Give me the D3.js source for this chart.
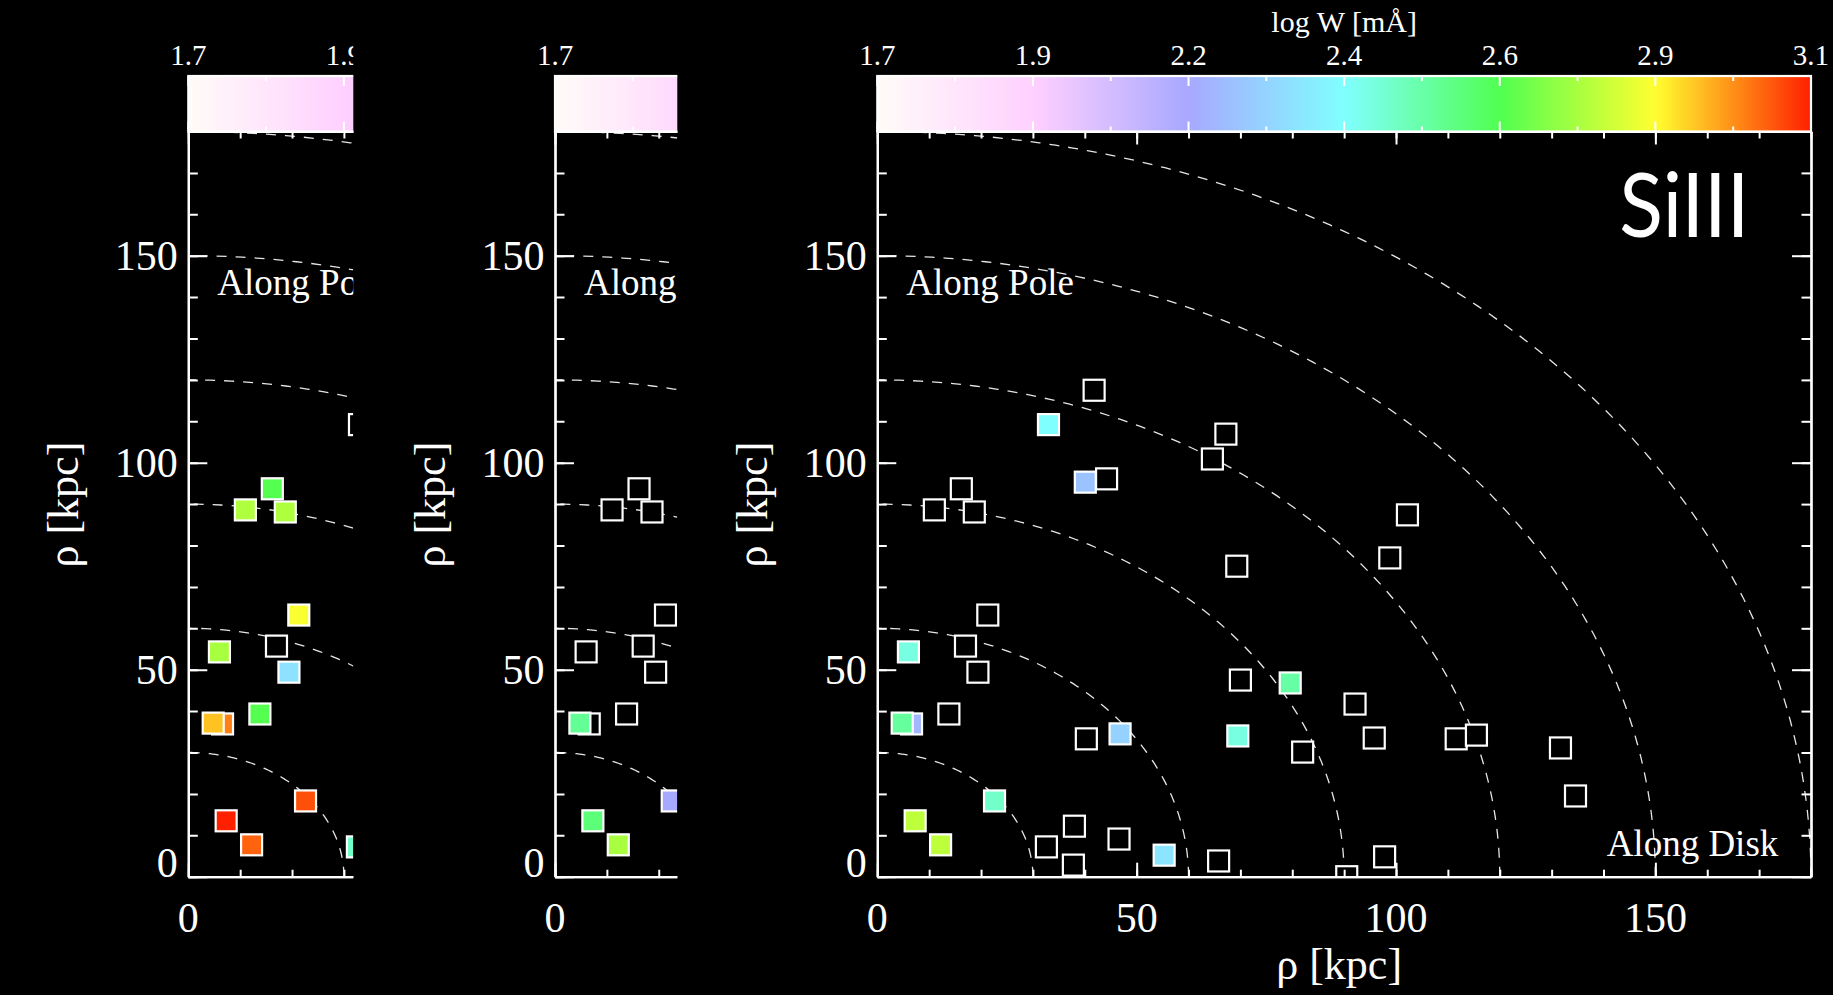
<!DOCTYPE html>
<html>
<head>
<meta charset="utf-8">
<script src="https://cdn.jsdelivr.net/npm/d3@7"></script>
<style>
  html, body { margin: 0; padding: 0; background: #000; }
  svg { display: block; }
</style>
</head>
<body>
<svg id="fig" width="1833" height="995"></svg>
<script>
// Sight-line positions: projected distance along the disk and along the pole (kpc)
const rhoX = [41.8, 33.0, 67.2, 64.6, 40.1, 44.2, 16.2, 11.0, 18.7, 69.3,
              21.3, 6.0, 17.0, 19.4, 6.6, 4.8, 13.8, 40.3, 46.8, 69.5,
              82.0, 70.0, 79.6, 92.1, 22.6, 7.3, 12.2, 32.6, 38.0, 37.8,
              46.6, 55.3, 65.8, 90.5, 95.8, 111.6, 115.5, 131.7, 134.6, 97.8,
              102.2, 98.8];
const rhoY = [117.5, 109.2, 106.9, 100.9, 95.3, 96.1, 93.7, 88.6, 88.1, 75.0,
              63.2, 54.3, 55.7, 49.4, 36.9, 37.1, 39.3, 33.3, 34.5, 34.0,
              30.1, 47.5, 46.8, 41.7, 18.3, 13.5, 7.7, 7.2, 12.2, 2.8,
              9.1, 5.2, 3.8, 0.0, 33.5, 33.3, 34.2, 31.1, 19.5, 4.8,
              87.4, 77.0];

// log equivalent widths [mÅ]; null = no detection (open square)
const logWSiIII = [null, 2.40, null, null, 2.24, null, null, null, null, null,
                   null, 2.44, null, null, 2.21, 2.53, null, null, 2.28, 2.44,
                   null, null, 2.52, null, 2.47, 2.78, 2.78, null, null, null,
                   null, 2.33, null, null, null, null, null, null, null, null,
                   null, null];
const logWLeft = [null, null, null, null, null, null, 2.64, 2.76, 2.76, null,
                  2.86, 2.75, null, 2.32, 3.00, 2.93, 2.64, null, null, null,
                  null, null, null, null, 3.05, 3.10, 3.03, 2.47, null, null,
                  null, null, null, null, null, null, null, null, null, null,
                  null, null];
const logWMiddle = [null, null, null, null, null, null, null, null, null, null,
                    null, null, null, null, null, 2.54, null, null, null, null,
                    null, null, null, null, 2.17, 2.58, 2.75, null, null, null,
                    null, null, null, null, null, null, null, null, null, null,
                    null, null];

// Dashed reference shells (kpc)
const shellRadii = [30, 60, 90, 120, 150, 180];
// Axis labels
const axisMajor = [0, 50, 100, 150];
const axisMinor = d3.range(0, 181, 10);
// Colour bar
const cbarLabels = ["1.7", "1.9", "2.2", "2.4", "2.6", "2.9", "3.1"];
const cbarColors = ["#fffcf8", "#ffd0ff", "#a8a8ff", "#80ffff", "#50ff50", "#ffff30", "#ff2000"];
const cbarRange = [1.7, 3.1];

// ---------------------------------------------------------------
const W = 1833, H = 995;
const plotTop = 131.5, plotW = 933.7, plotH = 745.2, cbH = 55.5;
const serif = "'Liberation Serif', 'Times New Roman', serif";

const svg = d3.select("#fig");
svg.append("rect").attr("width", W).attr("height", H).attr("fill", "#000");
const defs = svg.append("defs");

const x = d3.scaleLinear().domain([0, 180]).range([0, plotW]);
const y = d3.scaleLinear().domain([0, 180]).range([plotH, 0]);
const cbValues = cbarLabels.map((_, i) => cbarRange[0] + i * (cbarRange[1] - cbarRange[0]) / (cbarLabels.length - 1));
const cbx = d3.scaleLinear().domain(cbarRange).range([0, plotW]);
const color = d3.scaleLinear().domain(cbValues).range(cbarColors)
  .interpolate(d3.interpolateRgb).clamp(true);

// gradient for the colour bar, sampled from the same colour scale
const grad = defs.append("linearGradient").attr("id", "cbar-grad")
  .attr("x1", "0%").attr("x2", "100%").attr("y1", "0%").attr("y2", "0%");
d3.range(0, 101).forEach(k => {
  const v = cbarRange[0] + k / 100 * (cbarRange[1] - cbarRange[0]);
  grad.append("stop").attr("offset", k + "%").attr("stop-color", color(v));
});

const panels = [
  { id: "left",   left: 188.3, width: 165.0, values: logWLeft },
  { id: "middle", left: 555.0, width: 122.3, values: logWMiddle },
  { id: "main",   left: 877.3, width: plotW, values: logWSiIII, ion: "SiIII" }
];

function styleAxis(sel) {
  sel.select(".domain").attr("stroke", "#fff").attr("stroke-width", 2.2);
  sel.selectAll(".tick line").attr("stroke", "#fff").attr("stroke-width", 2);
  sel.selectAll(".tick text").attr("fill", "#fff");
  sel.attr("font-family", serif).attr("font-size", 42);
}

panels.forEach(p => {
  const isMain = p.id === "main";
  // texts are only created where some part of them lies inside the panel
  const shows = (px, halfW) => px - halfW < p.width;

  defs.append("clipPath").attr("id", "clip-" + p.id).append("rect")
    .attr("x", -170).attr("y", -plotTop)
    .attr("width", 170 + p.width + (isMain ? 60 : 0)).attr("height", H);
  defs.append("clipPath").attr("id", "plot-" + p.id).append("rect")
    .attr("x", 0).attr("y", 0).attr("width", p.width).attr("height", plotH);

  const outer = svg.append("g").attr("transform", `translate(${p.left},${plotTop})`);
  const g = outer.append("g").attr("clip-path", `url(#clip-${p.id})`);

  // colour bar
  g.append("rect").attr("x", 0).attr("y", -cbH).attr("width", plotW).attr("height", cbH)
    .attr("fill", "url(#cbar-grad)").attr("stroke", "#fff").attr("stroke-width", 2.2);
  const cbTicks = [];
  cbValues.forEach((v, i) => {
    cbTicks.push({ v, len: 10 });
    if (i < cbValues.length - 1) cbTicks.push({ v: (v + cbValues[i + 1]) / 2, len: 5 });
  });
  const cbt = g.append("g").attr("stroke", "#fff").attr("stroke-width", 2);
  cbt.selectAll("line.t").data(cbTicks).join("line").attr("class", "t")
    .attr("x1", d => cbx(d.v)).attr("x2", d => cbx(d.v))
    .attr("y1", -cbH).attr("y2", d => -cbH + d.len);
  cbt.selectAll("line.b").data(cbTicks).join("line").attr("class", "b")
    .attr("x1", d => cbx(d.v)).attr("x2", d => cbx(d.v))
    .attr("y1", 0).attr("y2", d => -d.len);
  const cbLab = cbValues.map((v, i) => ({ v, label: cbarLabels[i] }))
    .filter(d => shows(cbx(d.v), 18));
  g.append("g").selectAll("text").data(cbLab).join("text")
    .attr("x", d => cbx(d.v)).attr("y", -67)
    .attr("text-anchor", "middle").attr("fill", "#fff")
    .attr("font-family", serif).attr("font-size", 29)
    .text(d => d.label);
  if (shows(plotW / 2, 80)) {
    g.append("text").attr("x", plotW / 2).attr("y", -99.5)
      .attr("text-anchor", "middle").attr("fill", "#fff")
      .attr("font-family", serif).attr("font-size", 30)
      .text("log W [mÅ]");
  }

  // plot contents clipped to the plotting area
  const pg = g.append("g").attr("clip-path", `url(#plot-${p.id})`);
  const angles = d3.range(0, 91, 1).map(a => a * Math.PI / 180);
  shellRadii.forEach(r => {
    const line = d3.line().x(a => x(r * Math.cos(a))).y(a => y(r * Math.sin(a)));
    pg.append("path").attr("d", line(angles)).attr("fill", "none")
      .attr("stroke", "#e6e6e6").attr("stroke-width", 1.3)
      .attr("stroke-dasharray", "10 9");
  });

  const pts = rhoX.map((rx, i) => ({ x: rx, y: rhoY[i], w: p.values[i] }));
  const s = 21;
  pg.append("g").selectAll("rect").data(pts).join("rect")
    .attr("x", d => x(d.x) - s / 2).attr("y", d => y(d.y) - s / 2)
    .attr("width", s).attr("height", s)
    .attr("fill", d => d.w == null ? "#000" : color(d.w))
    .attr("stroke", "#fff").attr("stroke-width", 2.2);

  // axes: ticks point inward
  g.append("g").attr("transform", `translate(0,${plotH})`)
    .call(d3.axisBottom(x).tickValues(axisMinor).tickSize(-7).tickSizeOuter(0).tickFormat(""))
    .call(styleAxis);
  g.append("g").attr("transform", `translate(0,${plotH})`)
    .call(d3.axisBottom(x).tickValues(axisMajor).tickSize(-14).tickSizeOuter(0).tickFormat(""))
    .call(styleAxis);
  g.append("g").attr("transform", `translate(0,${plotH})`)
    .selectAll("text").data(axisMajor.filter(v => shows(x(v), 32))).join("text")
    .attr("x", d => x(d)).attr("y", 55.5)
    .attr("text-anchor", "middle").attr("fill", "#fff")
    .attr("font-family", serif).attr("font-size", 42)
    .text(d3.format("d"));
  g.append("g")
    .call(d3.axisTop(x).tickValues(axisMinor).tickSize(-7).tickSizeOuter(0).tickFormat(""))
    .call(styleAxis);
  g.append("g")
    .call(d3.axisTop(x).tickValues(axisMajor).tickSize(-13).tickSizeOuter(0).tickFormat(""))
    .call(styleAxis);
  g.append("g")
    .call(d3.axisLeft(y).tickValues(axisMinor).tickSize(-9.5).tickSizeOuter(0).tickFormat(""))
    .call(styleAxis);
  const yl = g.append("g")
    .call(d3.axisLeft(y).tickValues(axisMajor).tickSize(-19).tickSizeOuter(0).tickPadding(10.6).tickFormat(d3.format("d")))
    .call(styleAxis);
  yl.selectAll(".tick text").attr("dy", d => d === 0 ? "0em" : "0.34em");
  g.append("g").attr("transform", `translate(${plotW},0)`)
    .call(d3.axisRight(y).tickValues(axisMinor).tickSize(-9.5).tickSizeOuter(0).tickFormat(""))
    .call(styleAxis);
  g.append("g").attr("transform", `translate(${plotW},0)`)
    .call(d3.axisRight(y).tickValues(axisMajor).tickSize(-19).tickSizeOuter(0).tickFormat(""))
    .call(styleAxis);

  // axis titles
  g.append("text").attr("transform", `translate(-110,${plotH / 2 + 0.5}) rotate(-90)`)
    .attr("text-anchor", "middle").attr("fill", "#fff")
    .attr("font-family", serif).attr("font-size", 44).text("ρ [kpc]");
  if (shows(plotW / 2, 70)) {
    g.append("text").attr("x", plotW / 2 - 5).attr("y", 979 - plotTop)
      .attr("text-anchor", "middle").attr("fill", "#fff")
      .attr("font-family", serif).attr("font-size", 44).text("ρ [kpc]");
  }

  // direction annotations
  g.append("text").attr("x", 29).attr("y", 163.5).attr("fill", "#fff")
    .attr("font-family", serif).attr("font-size", 37).text("Along Pole");
  if (shows(901 - 175, 0)) {
    g.append("text").attr("x", 901).attr("y", 724.5).attr("text-anchor", "end").attr("fill", "#fff")
      .attr("font-family", serif).attr("font-size", 37).text("Along Disk");
  }

  if (p.ion) {
    g.append("text").attr("x", 872).attr("y", 105.2).attr("text-anchor", "end")
      .attr("fill", "#fff").attr("font-family", "Lato, 'Open Sans', sans-serif")
      .attr("font-size", 90).attr("textLength", 130).attr("lengthAdjust", "spacingAndGlyphs")
      .text(p.ion);
  }
});
</script>
</body>
</html>
